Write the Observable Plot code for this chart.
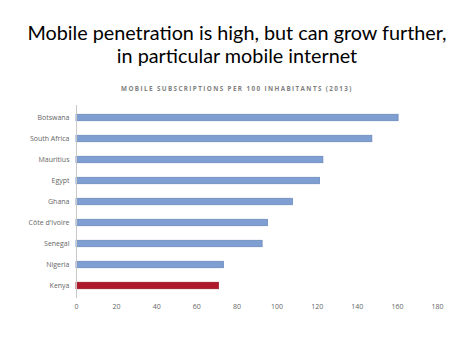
<!DOCTYPE html>
<html>
<head>
<meta charset="utf-8">
<script src="https://cdn.jsdelivr.net/npm/d3@7"></script>
<script src="https://cdn.jsdelivr.net/npm/@observablehq/plot@0.6"></script>
<style>
  html, body { margin: 0; padding: 0; background: #fff; }
  body { width: 474px; height: 355px; overflow: hidden; font-family: "Open Sans", Lato, sans-serif; }
  #title { position: absolute; left: 0; top: 21px; width: 474px; text-align: center; white-space: nowrap; font-family: Lato, "Open Sans", sans-serif; font-size: 19.8px; line-height: 23px; color: #000; }
  #subtitle { position: absolute; left: 0; top: 84px; width: 474px; text-align: center; white-space: nowrap; font-family: "Open Sans", sans-serif; font-size: 6.3px; font-weight: bold; letter-spacing: 1.4px; color: #7f7f7f; }
  #chart { position: absolute; left: 0; top: 95px; }
</style>
</head>
<body>
<div id="title">Mobile penetration is high, but can grow further,<br>in particular mobile internet</div>
<div id="subtitle">MOBILE SUBSCRIPTIONS PER 100 INHABITANTS (2013)</div>
<div id="chart"></div>
<script>
const countries = ["Botswana", "South Africa", "Mauritius", "Egypt", "Ghana", "Côte d'Ivoire", "Senegal", "Nigeria", "Kenya"];
const subscriptions = [160.6, 147.5, 123.1, 121.4, 107.9, 95.5, 92.8, 73.5, 71.0];
const highlight = ["Kenya"];
const xTicks = [0, 20, 40, 60, 80, 100, 120, 140, 160, 180];

const data = countries.map((c, i) => ({country: c, value: subscriptions[i], hi: highlight.includes(c)}));

const chart = Plot.plot({
  width: 474,
  height: 260,
  marginLeft: 76,
  marginRight: 37,
  marginTop: 10,
  marginBottom: 57,
  style: {fontFamily: "'Open Sans', sans-serif", fontSize: "7px", color: "#666666", background: "#fff"},
  x: {domain: [0, 180], ticks: xTicks, tickSize: 0, tickPadding: 6, label: null, tickFormat: d => d},
  y: {domain: countries, padding: 0, tickSize: 0, tickPadding: 7, label: null},
  marks: [
    Plot.barX(data, {
      x: "value", y: "country",
      insetTop: 7.3, insetBottom: 7.3,
      fill: d => d.hi ? "#b0182b" : "#7f9fd2",
      stroke: d => d.hi ? "#9a1424" : "#6a89bd",
      strokeWidth: 0.8
    }),
    Plot.ruleX([0], {stroke: "#c8c8c8", strokeWidth: 1})
  ]
});
document.getElementById("chart").appendChild(chart);
</script>
</body>
</html>
